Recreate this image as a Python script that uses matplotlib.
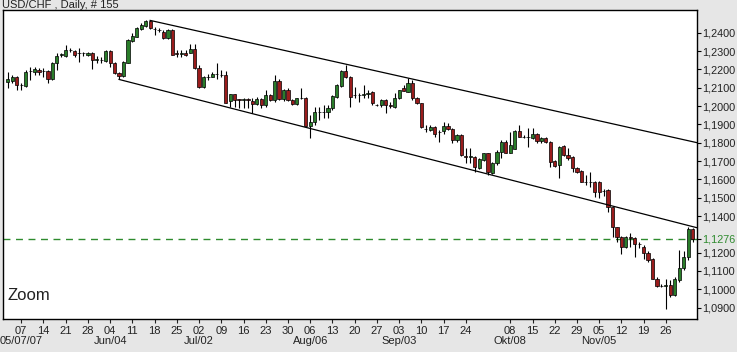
import numpy as np
import matplotlib
matplotlib.use("Agg")
import matplotlib.pyplot as plt

plt.rcParams['font.family'] = ['Liberation Sans', 'DejaVu Sans']

# daily USD/CHF candles, one row per trading day (open, high, low, close)
opens = [1.2132, 1.2136, 1.2160, 1.2114, 1.2110, 1.2190, 1.2183, 1.2196, 1.2190, 1.2190,
         1.2150, 1.2232, 1.2281, 1.2272, 1.2303, 1.2301, 1.2287, 1.2287, 1.2278, 1.2290,
         1.2252, 1.2250, 1.2247, 1.2300, 1.2236, 1.2181, 1.2163, 1.2236, 1.2356, 1.2378,
         1.2418, 1.2436, 1.2462, 1.2418, 1.2416, 1.2405, 1.2369, 1.2414, 1.2287, 1.2285,
         1.2290, 1.2290, 1.2309, 1.2209, 1.2105, 1.2160, 1.2160, 1.2174, 1.2169, 1.2169,
         1.2025, 1.2064, 1.2036, 1.2034, 1.2036, 1.2027, 1.2009, 1.2036, 1.2005, 1.2060,
         1.2032, 1.2136, 1.2036, 1.2087, 1.2032, 1.2009, 1.2043, 1.2045, 1.1892, 1.1914,
         1.1969, 1.1967, 1.1965, 1.1987, 1.2051, 1.2111, 1.2191, 1.2160, 1.2058, 1.2060,
         1.2061, 1.2067, 1.2078, 1.2005, 1.2005, 1.2032, 1.2003, 1.1996, 1.2045, 1.2096,
         1.2078, 1.2123, 1.2045, 1.2014, 1.1876, 1.1869, 1.1887, 1.1859, 1.1863, 1.1892,
         1.1874, 1.1814, 1.1841, 1.1725, 1.1723, 1.1723, 1.1660, 1.1705, 1.1741, 1.1632,
         1.1687, 1.1751, 1.1805, 1.1745, 1.1765, 1.1865, 1.1833, 1.1830, 1.1823, 1.1847,
         1.1811, 1.1823, 1.1805, 1.1701, 1.1678, 1.1782, 1.1732, 1.1723, 1.1660, 1.1645,
         1.1587, 1.1587, 1.1587, 1.1587, 1.1538, 1.1541, 1.1447, 1.1338, 1.1283, 1.1232,
         1.1283, 1.1278, 1.1247, 1.1232, 1.1199, 1.1168, 1.1059, 1.1019, 1.1019, 1.1023,
         1.0968, 1.1050, 1.1114, 1.1177, 1.1327]
highs = [1.2187, 1.2169, 1.2163, 1.2123, 1.2196, 1.2214, 1.2214, 1.2205, 1.2205, 1.2196,
         1.2241, 1.2287, 1.2290, 1.2332, 1.2314, 1.2305, 1.2314, 1.2296, 1.2294, 1.2296,
         1.2272, 1.2269, 1.2305, 1.2305, 1.2241, 1.2187, 1.2245, 1.2363, 1.2396, 1.2432,
         1.2451, 1.2467, 1.2467, 1.2432, 1.2423, 1.2414, 1.2418, 1.2418, 1.2305, 1.2305,
         1.2305, 1.2341, 1.2341, 1.2223, 1.2163, 1.2174, 1.2187, 1.2232, 1.2196, 1.2192,
         1.2068, 1.2068, 1.2040, 1.2042, 1.2042, 1.2045, 1.2051, 1.2042, 1.2087, 1.2065,
         1.2169, 1.2147, 1.2092, 1.2096, 1.2036, 1.2045, 1.2096, 1.2051, 1.1950, 1.1996,
         1.1996, 1.2005, 1.2005, 1.2060, 1.2118, 1.2196, 1.2223, 1.2162, 1.2105, 1.2069,
         1.2114, 1.2087, 1.2080, 1.2009, 1.2036, 1.2040, 1.2023, 1.2069, 1.2090, 1.2114,
         1.2151, 1.2142, 1.2051, 1.2018, 1.1896, 1.1896, 1.1890, 1.1869, 1.1914, 1.1905,
         1.1880, 1.1845, 1.1845, 1.1769, 1.1769, 1.1730, 1.1714, 1.1745, 1.1745, 1.1696,
         1.1760, 1.1814, 1.1814, 1.1860, 1.1869, 1.1896, 1.1842, 1.1878, 1.1878, 1.1851,
         1.1832, 1.1830, 1.1810, 1.1705, 1.1782, 1.1787, 1.1769, 1.1730, 1.1665, 1.1650,
         1.1623, 1.1641, 1.1590, 1.1590, 1.1545, 1.1545, 1.1451, 1.1342, 1.1290, 1.1292,
         1.1305, 1.1285, 1.1260, 1.1240, 1.1210, 1.1172, 1.1068, 1.1028, 1.1054, 1.1050,
         1.1068, 1.1214, 1.1210, 1.1341, 1.1336]
lows = [1.2096, 1.2123, 1.2087, 1.2087, 1.2105, 1.2141, 1.2169, 1.2169, 1.2160, 1.2123,
        1.2141, 1.2196, 1.2269, 1.2269, 1.2296, 1.2269, 1.2241, 1.2272, 1.2272, 1.2201,
        1.2232, 1.2232, 1.2241, 1.2214, 1.2174, 1.2145, 1.2160, 1.2232, 1.2351, 1.2374,
        1.2414, 1.2432, 1.2418, 1.2387, 1.2405, 1.2363, 1.2365, 1.2278, 1.2265, 1.2265,
        1.2272, 1.2287, 1.2203, 1.2096, 1.2101, 1.2141, 1.2156, 1.2150, 1.2160, 1.2014,
        1.1996, 1.1996, 1.1987, 1.1990, 1.1987, 1.1960, 1.2005, 1.1987, 1.1996, 1.2030,
        1.2023, 1.2032, 1.2030, 1.2030, 1.2005, 1.2005, 1.2040, 1.1890, 1.1823, 1.1896,
        1.1923, 1.1932, 1.1932, 1.1980, 1.2045, 1.2105, 1.2151, 1.1996, 1.2042, 1.2023,
        1.2042, 1.2042, 1.2005, 1.2001, 1.1996, 1.1960, 1.1987, 1.1987, 1.2040, 1.2080,
        1.2074, 1.2032, 1.2009, 1.1880, 1.1859, 1.1865, 1.1832, 1.1805, 1.1850, 1.1870,
        1.1796, 1.1805, 1.1728, 1.1687, 1.1687, 1.1641, 1.1655, 1.1700, 1.1623, 1.1629,
        1.1678, 1.1714, 1.1742, 1.1741, 1.1763, 1.1830, 1.1823, 1.1774, 1.1820, 1.1800,
        1.1800, 1.1796, 1.1669, 1.1665, 1.1605, 1.1730, 1.1705, 1.1641, 1.1632, 1.1584,
        1.1569, 1.1560, 1.1505, 1.1496, 1.1510, 1.1423, 1.1287, 1.1260, 1.1192, 1.1225,
        1.1232, 1.1178, 1.1223, 1.1168, 1.1150, 1.1059, 1.1012, 1.1010, 1.0890, 1.0959,
        1.0965, 1.1041, 1.1105, 1.1159, 1.1260]
closes = [1.2147, 1.2160, 1.2112, 1.2112, 1.2187, 1.2192, 1.2201, 1.2183, 1.2192, 1.2150,
          1.2236, 1.2272, 1.2283, 1.2305, 1.2305, 1.2278, 1.2289, 1.2289, 1.2290, 1.2250,
          1.2254, 1.2250, 1.2300, 1.2232, 1.2178, 1.2163, 1.2241, 1.2360, 1.2381, 1.2423,
          1.2441, 1.2462, 1.2423, 1.2418, 1.2414, 1.2369, 1.2414, 1.2281, 1.2285, 1.2289,
          1.2278, 1.2309, 1.2205, 1.2105, 1.2156, 1.2160, 1.2174, 1.2176, 1.2170, 1.2018,
          1.2064, 1.2032, 1.2034, 1.2036, 1.2035, 1.2009, 1.2036, 1.2005, 1.2060, 1.2032,
          1.2136, 1.2036, 1.2087, 1.2032, 1.2009, 1.2042, 1.2045, 1.1892, 1.1914, 1.1969,
          1.1967, 1.1969, 1.1990, 1.2056, 1.2114, 1.2191, 1.2160, 1.2051, 1.2060, 1.2058,
          1.2063, 1.2069, 1.2014, 1.2005, 1.2032, 1.2005, 1.2001, 1.2045, 1.2087, 1.2083,
          1.2123, 1.2042, 1.2014, 1.1887, 1.1874, 1.1887, 1.1850, 1.1858, 1.1892, 1.1874,
          1.1814, 1.1841, 1.1732, 1.1723, 1.1725, 1.1669, 1.1709, 1.1741, 1.1641, 1.1687,
          1.1751, 1.1805, 1.1745, 1.1787, 1.1865, 1.1833, 1.1831, 1.1829, 1.1847, 1.1811,
          1.1823, 1.1805, 1.1696, 1.1674, 1.1778, 1.1732, 1.1714, 1.1660, 1.1641, 1.1587,
          1.1587, 1.1585, 1.1532, 1.1532, 1.1536, 1.1450, 1.1338, 1.1287, 1.1232, 1.1287,
          1.1281, 1.1247, 1.1245, 1.1199, 1.1159, 1.1059, 1.1019, 1.1017, 1.1022, 1.0968,
          1.1054, 1.1114, 1.1177, 1.1327, 1.1276]

# weekly ticks (Mondays) and month captions
tick_idx = [3, 8, 13, 18, 23, 28, 33, 38, 43, 48, 53, 58, 63, 68, 73, 78, 83, 88,
            93, 98, 103, 113, 118, 123, 128, 133, 138, 143, 148]
tick_days = ['07', '14', '21', '28', '04', '11', '18', '25', '02', '09', '16', '23',
             '30', '06', '13', '20', '27', '03', '10', '17', '24', '08', '15', '22',
             '29', '05', '12', '19', '26']
month_idx = [3, 23, 43, 68, 88, 113, 133]
month_labels = ['05/07/07', 'Jun/04', 'Jul/02', 'Aug/06', 'Sep/03', 'Okt/08', 'Nov/05']

price_ticks = [1.24, 1.23, 1.22, 1.21, 1.20, 1.19, 1.18, 1.17, 1.16, 1.15, 1.14,
               1.12, 1.11, 1.10, 1.09]
last_price = 1.1276

# hand drawn channel (bar index, price)
upper_x = [32, 155]
upper_y = [1.2467, 1.1800]
lower_x = [25, 155]
lower_y = [1.2145, 1.1336]

GREEN = '#2a7d2a'
RED = '#9a1c1c'

o = np.array(opens)
h = np.array(highs)
l = np.array(lows)
c = np.array(closes)
x = np.arange(len(o))

fig = plt.figure(figsize=(7.37, 3.52), dpi=100)
fig.patch.set_facecolor('#e6e6e6')
ax = fig.add_axes([3 / 737, 1 - 319 / 352, 694 / 737, 309 / 352])
ax.set_facecolor('white')

ax.vlines(x, l, h, color='black', lw=0.8, zorder=2)
colors = np.where(c >= o, GREEN, RED)
bottom = np.minimum(o, c)
height = np.maximum(np.abs(c - o), 0.00004)
ax.bar(x, height, bottom=bottom, width=0.72, color=colors,
       edgecolor='black', linewidth=0.5, zorder=3)

ax.plot(upper_x, upper_y, color='black', lw=0.9, zorder=4)
ax.plot(lower_x, lower_y, color='black', lw=0.9, zorder=4)
ax.axhline(last_price, color='#2e8b2e', lw=1, ls=(0, (5, 4)), zorder=1)

ax.set_xlim(-1.1, 155)
ax.set_ylim(1.08381, 1.25238)

# right price axis
yt = sorted(price_ticks + [last_price])
ax.yaxis.tick_right()
ax.set_yticks(yt)
ax.set_yticklabels([f"{v:.4f}".replace('.', ',') for v in yt])
for lab, v in zip(ax.get_yticklabels(), yt):
    lab.set_color('#2e8b2e' if v == last_price else '#222222')
ax.tick_params(axis='y', direction='out', length=3, width=0.8, pad=1, labelsize=7.8)

ax.set_xticks(tick_idx)
ax.set_xticklabels(tick_days)
ax.tick_params(axis='x', direction='out', length=3, width=0.8, pad=2,
               labelsize=8, colors='#222222')
for i, lab in zip(month_idx, month_labels):
    ax.annotate(lab, xy=(i, 0), xycoords=('data', 'axes fraction'),
                xytext=(0, -22), textcoords='offset pixels',
                ha='center', va='center', fontsize=8, color='#222222',
                annotation_clip=False)

for s in ax.spines.values():
    s.set_color('black')
    s.set_linewidth(1)

ax.text(0.006, 0.0615, 'Zoom', transform=ax.transAxes, fontsize=12,
        va='baseline', ha='left', color='#222222')
fig.text(2 / 737, 1 - 8 / 352, 'USD/CHF , Daily, # 155', fontsize=8,
         va='baseline', ha='left', color='#222222')

fig.savefig('out.png', dpi=100, facecolor=fig.get_facecolor())
